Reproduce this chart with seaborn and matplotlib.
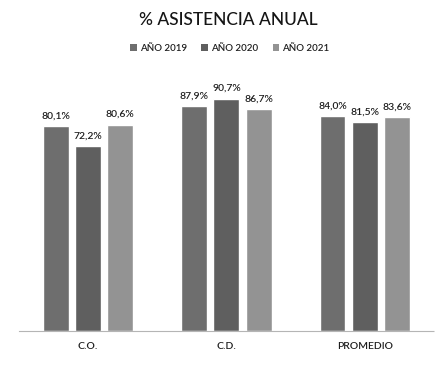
import matplotlib
matplotlib.use("Agg")
import matplotlib.pyplot as plt
import seaborn as sns
import pandas as pd
from matplotlib.patches import Patch

categories = ["C.O.", "C.D.", "PROMEDIO"]
series_names = ["AÑO 2019", "AÑO 2020", "AÑO 2021"]
values_2019 = [80.1, 87.9, 84.0]
values_2020 = [72.2, 90.7, 81.5]
values_2021 = [80.6, 86.7, 83.6]
colors = ["#6e6e6e", "#5f5f5f", "#939393"]

rows = []
for name, vals in zip(series_names, [values_2019, values_2020, values_2021]):
    for cat, v in zip(categories, vals):
        rows.append({"categoria": cat, "serie": name, "valor": v})
df = pd.DataFrame(rows)

sns.set_theme(style="white")
plt.rcParams["font.family"] = ["Lato", "DejaVu Sans"]

fig = plt.figure(figsize=(4.4, 3.67), dpi=100)
ax = fig.add_axes([0.043, 0.098, 0.943, 0.698])

sns.barplot(data=df, x="categoria", y="valor", hue="serie", order=categories,
            hue_order=series_names, palette=colors, width=0.7, gap=0.2,
            saturation=1, legend=False, ax=ax)

for container in ax.containers:
    labels = [f"{v:.1f}%".replace(".", ",") for v in container.datavalues]
    ax.bar_label(container, labels=labels, padding=4, fontsize=7.5,
                 fontweight="semibold", color="#1e1e1e")

ax.set_ylim(0, 100)
ax.set_xlim(-0.5, 2.5)
ax.set_xlabel("")
ax.set_ylabel("")
ax.set_yticks([])
ax.tick_params(axis="x", length=0, pad=8, labelsize=7.5, labelcolor="#1e1e1e")
for lbl in ax.get_xticklabels():
    lbl.set_fontweight("semibold")
for side in ["top", "left", "right"]:
    ax.spines[side].set_visible(False)
ax.spines["bottom"].set_color("#b5b5b5")
ax.spines["bottom"].set_linestyle((0, (1, 1)))
ax.spines["bottom"].set_linewidth(0.8)

fig.text(0.518, 0.945, "% ASISTENCIA ANUAL", ha="center", va="center",
         fontsize=12.5, fontweight="medium", color="#151515")

handles = [Patch(facecolor=c, edgecolor="none") for c in colors]
fig.legend(handles, series_names, loc="center", bbox_to_anchor=(0.522, 0.868),
           ncol=3, frameon=False, handlelength=0.7, handleheight=0.7,
           handletextpad=0.3, columnspacing=1.5, labelcolor="#1e1e1e",
           prop={"size": 7, "weight": "semibold"})

fig.savefig("out.png", dpi=100, facecolor="white")
